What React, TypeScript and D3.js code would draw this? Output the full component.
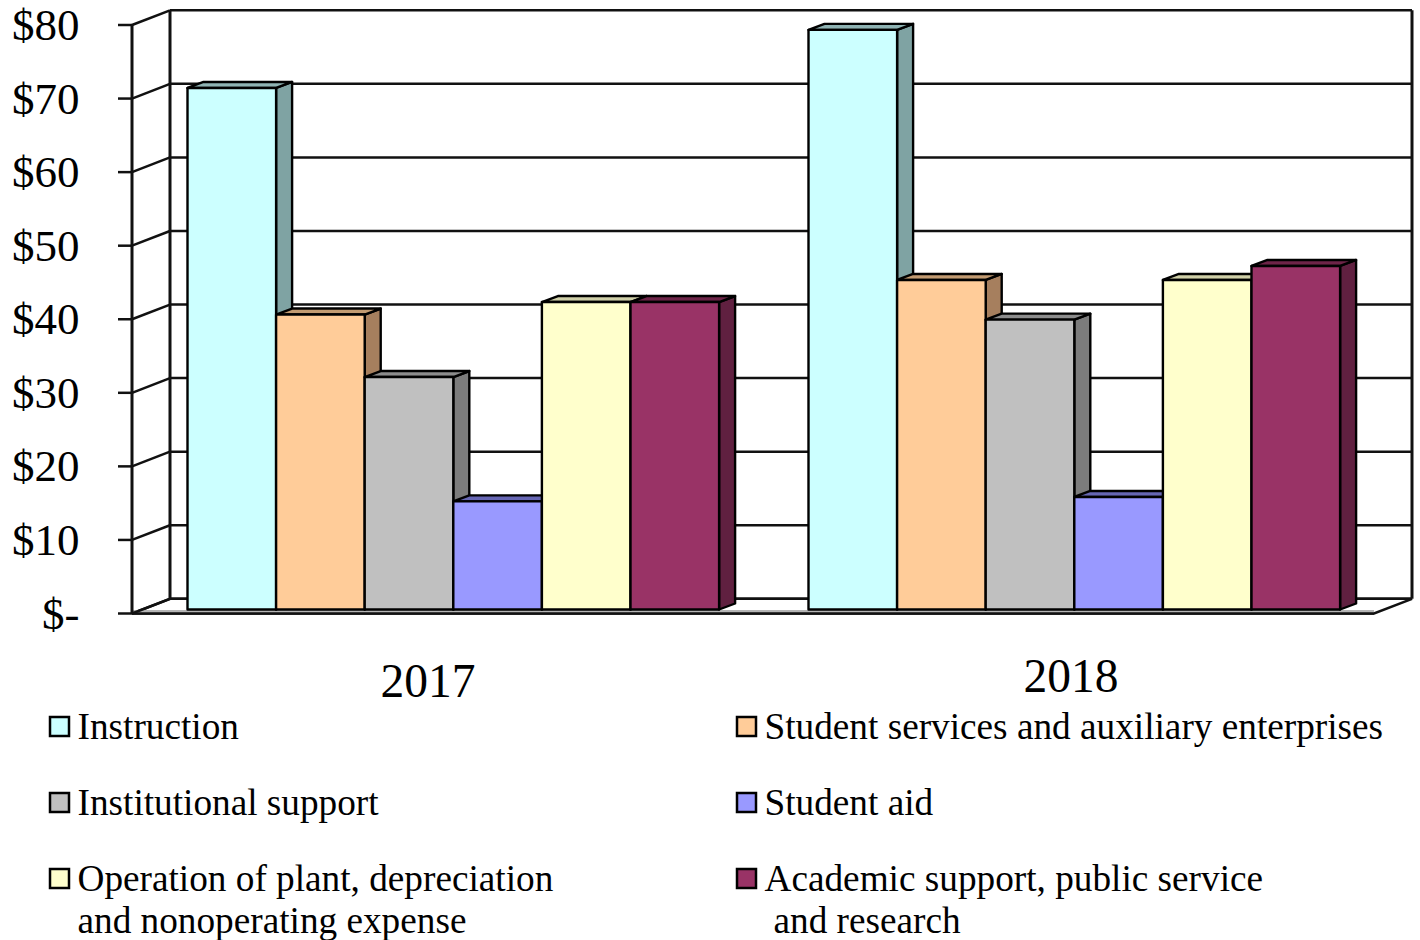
import React from "react";
import * as d3 from "d3";

const years = ["2017", "2018"];
const seriesNames = [
  "Instruction",
  "Student services and auxiliary enterprises",
  "Institutional support",
  "Student aid",
  "Operation of plant, depreciation and nonoperating expense",
  "Academic support, public service and research",
];
const values2017 = [70.9, 40.1, 31.6, 14.7, 41.8, 41.8];
const values2018 = [78.8, 44.8, 39.4, 15.3, 44.8, 46.7];
const ticks = [0, 10, 20, 30, 40, 50, 60, 70, 80];
const fronts = ["#CCFFFF", "#FFCC99", "#C0C0C0", "#9999FF", "#FFFFCC", "#993366"];
const sides = ["#7FA3A3", "#A67F5E", "#7C7C7C", "#5F5FA6", "#A6A67F", "#602040"];
const tops = ["#8FB3B3", "#C29B72", "#8C8C8C", "#6666B3", "#CFCFA8", "#6E2448"];
const legendLines = [
  ["Instruction"],
  ["Student services and auxiliary enterprises"],
  ["Institutional support"],
  ["Student aid"],
  ["Operation of plant, depreciation", "and nonoperating expense"],
  ["Academic support, public service", " and research"],
];
const legendIndent = [0, 0, 0, 0, 0, 9];
const yearLabelY = [697, 692];

const W = 1420, H = 940;
const font = "'Liberation Serif','Times New Roman',serif";
const x0 = 132, x1 = 1374;
const wallDx = 38, wallDy = -14.7;
const y = d3.scaleLinear().domain([0, 80]).range([613.5, 25]);
const xOuter = d3.scaleBand<string>().domain(years).range([x0, x1]);
const xInner = d3.scaleBand<number>().domain(d3.range(6)).range([55.5, 587.1]);
const barLift = -4, sDx = 16, sDy = -6;
const ink = "#111";

export default function App() {
  const data = [values2017, values2018];
  return (
    <svg width={W} height={H} viewBox={`0 0 ${W} ${H}`}
      style={{ position: "absolute", left: 0, top: 0, background: "#fff" }}>
      {/* floor */}
      <path d={`M${x0},${y(0)} L${x0 + wallDx},${y(0) + wallDy} H${x1 + wallDx} L${x1},${y(0)} Z`}
        fill="#fff" stroke={ink} strokeWidth={2.5} />
      <line x1={x0} x2={x1} y1={y(0) - 2} y2={y(0) - 2} stroke="#b5b5b5" strokeWidth={3} />
      <line x1={x0} x2={x1} y1={y(0)} y2={y(0)} stroke={ink} strokeWidth={2.5} />
      {/* walls */}
      {ticks.map((t) => (
        <g key={t} stroke={ink} strokeWidth={2.5} fill="none">
          <line x1={118} x2={x0} y1={y(t)} y2={y(t)} />
          <line x1={x0} y1={y(t)} x2={x0 + wallDx} y2={y(t) + wallDy} />
          <line x1={x0 + wallDx} x2={x1 + wallDx} y1={y(t) + wallDy} y2={y(t) + wallDy} />
        </g>
      ))}
      <line x1={x0} x2={x0} y1={y(80)} y2={y(0)} stroke={ink} strokeWidth={3} />
      <line x1={x0 + wallDx} x2={x0 + wallDx} y1={y(80) + wallDy} y2={y(0) + wallDy} stroke={ink} strokeWidth={3} />
      <line x1={x1 + wallDx} x2={x1 + wallDx} y1={y(80) + wallDy} y2={y(0) + wallDy} stroke={ink} strokeWidth={3} />
      {/* tick labels */}
      {ticks.map((t) => (
        <text key={t} x={79.5} y={y(t) + 15} textAnchor="end" fontFamily={font} fontSize={45} fill="#000">
          {t === 0 ? "$-" : `$${t}`}
        </text>
      ))}
      {/* bars */}
      {years.map((yr, yi) => (
        <g key={yr}>
          {data[yi].map((v, i) => {
            const bx = xOuter(yr)! + xInner(i)!;
            const bw = xInner.bandwidth();
            const top = y(v) + barLift;
            const base = y(0) + barLift;
            return (
              <g key={i} stroke="#000" strokeWidth={2.4} strokeLinejoin="round">
                <path d={`M${bx + bw},${top} l${sDx},${sDy} V${base + sDy} l${-sDx},${-sDy} Z`} fill={sides[i]} />
                <path d={`M${bx},${top} l${sDx},${sDy} H${bx + bw + sDx} l${-sDx},${-sDy} Z`} fill={tops[i]} />
                <rect x={bx} y={top} width={bw} height={base - top} fill={fronts[i]} />
              </g>
            );
          })}
          <text x={xOuter(yr)! + (yi === 0 ? 296 : 318)} y={yearLabelY[yi]} textAnchor="middle"
            fontFamily={font} fontSize={47.5} fill="#000">{yr}</text>
        </g>
      ))}
      {/* legend */}
      {seriesNames.map((name, i) => {
        const col = i % 2;
        const row = Math.floor(i / 2);
        const lx = col === 0 ? 50 : 737;
        const ly = 717 + row * 76;
        return (
          <g key={name}>
            <rect x={lx} y={ly} width={19} height={19} fill={fronts[i]} stroke="#000" strokeWidth={2.5} />
            {legendLines[i].map((ln, k) => (
              <text key={k} x={lx + 27.5 + (k > 0 ? legendIndent[i] : 0)} y={ly + 22 + k * 42}
                fontFamily={font} fontSize={37.25} fill="#000">{ln.trim()}</text>
            ))}
          </g>
        );
      })}
    </svg>
  );
}
